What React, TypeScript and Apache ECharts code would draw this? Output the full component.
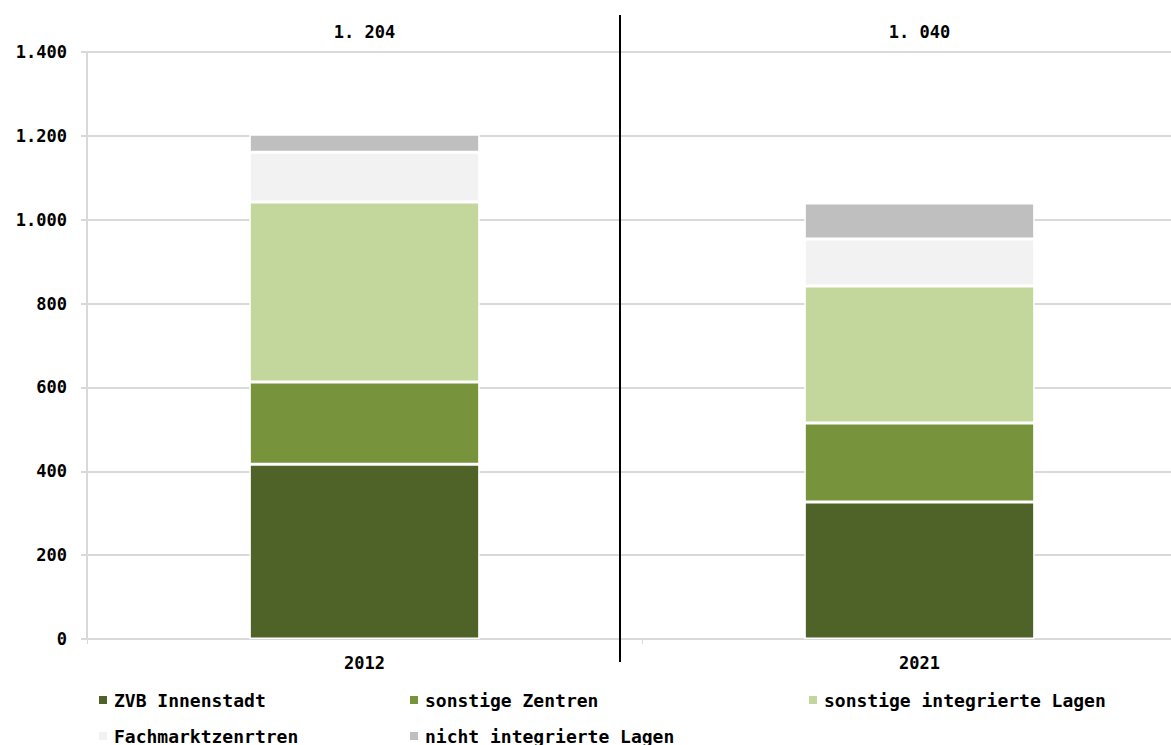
import React, { useEffect, useRef } from "react";
import * as echarts from "echarts";

const categories = ["2012", "2021"];
const topLabels = ["1. 204", "1. 040"];
const seriesNames = [
  "ZVB Innenstadt",
  "sonstige Zentren",
  "sonstige integrierte Lagen",
  "Fachmarktzenrtren",
  "nicht integrierte Lagen",
];
const zvbInnenstadt = [417, 327];
const sonstigeZentren = [196, 188];
const sonstigeIntegrierte = [429, 327];
const fachmarktzentren = [119, 112];
const nichtIntegrierte = [43, 86];
const yTicks = [0, 200, 400, 600, 800, 1000, 1200, 1400];

const colors = ["#4f6228", "#77933c", "#c3d69b", "#f2f2f2", "#bfbfbf"];
const FONT = "'DejaVu Sans Mono', monospace";

export default function App() {
  const ref = useRef<HTMLDivElement>(null);
  useEffect(() => {
    if (!ref.current) return;
    const chart = echarts.init(ref.current, undefined, { renderer: "svg" });
    const values = [zvbInnenstadt, sonstigeZentren, sonstigeIntegrierte, fachmarktzentren, nichtIntegrierte];
    const legendPos = [
      { left: 97, top: 691 },
      { left: 408, top: 691 },
      { left: 807, top: 691 },
      { left: 97, top: 727 },
      { left: 408, top: 727 },
    ];
    const fmt = (v: number) => String(v).replace(/\B(?=(\d{3})+(?!\d))/g, ".");
    chart.setOption({
      animation: false,
      grid: { left: 87, right: 3, top: 52, bottom: 106, containLabel: false },
      xAxis: [
        {
          type: "category",
          data: categories,
          axisLine: { show: true, lineStyle: { color: "#d9d9d9", width: 2 } },
          axisTick: { show: true, length: 5, lineStyle: { color: "#d9d9d9" } },
          axisLabel: { color: "#000", fontFamily: FONT, fontWeight: "bold", fontSize: 17, margin: 15 },
        },
        {
          type: "category",
          position: "top",
          data: categories,
          axisLine: { show: false },
          axisTick: { show: false },
          axisLabel: {
            color: "#000",
            fontFamily: FONT,
            fontWeight: "bold",
            fontSize: 17,
            margin: 12,
            formatter: (_v: string, i: number) => topLabels[i],
          },
        },
      ],
      yAxis: {
        type: "value",
        min: yTicks[0],
        max: yTicks[yTicks.length - 1],
        interval: 200,
        axisLine: { show: true, lineStyle: { color: "#d9d9d9", width: 2 } },
        axisTick: { show: true, length: 6, lineStyle: { color: "#d9d9d9", width: 2 } },
        splitLine: { show: true, lineStyle: { color: "#d9d9d9", width: 2 } },
        axisLabel: {
          color: "#000",
          fontFamily: FONT,
          fontWeight: "bold",
          fontSize: 17,
          margin: 20,
          formatter: (v: number) => fmt(v),
        },
      },
      legend: seriesNames.map((n, i) => ({
        data: [n],
        left: legendPos[i].left,
        top: legendPos[i].top,
        padding: 0,
        icon: "rect",
        itemWidth: 10,
        itemHeight: 10,
        itemGap: 0,
        selectedMode: false,
        textStyle: {
          color: "#000",
          fontFamily: FONT,
          fontWeight: "bold",
          fontSize: 18,
          lineHeight: 18,
          padding: [0, 0, 0, 1],
        },
      })),
      series: seriesNames.map((n, i) => ({
        name: n,
        type: "bar",
        stack: "total",
        data: values[i],
        barWidth: "41.5%",
        itemStyle: { color: colors[i], borderColor: "#fff", borderWidth: 1.5 },
        emphasis: { disabled: true },
      })),
      graphic: [
        {
          type: "line",
          shape: { x1: 620, y1: 15, x2: 620, y2: 662 },
          style: { stroke: "#000", lineWidth: 2 },
          z: 100,
        },
      ],
    });
    return () => chart.dispose();
  }, []);
  return (
    <div
      ref={ref}
      style={{ position: "fixed", left: 0, top: 0, width: 1200, height: 745, background: "#fff" }}
    />
  );
}
